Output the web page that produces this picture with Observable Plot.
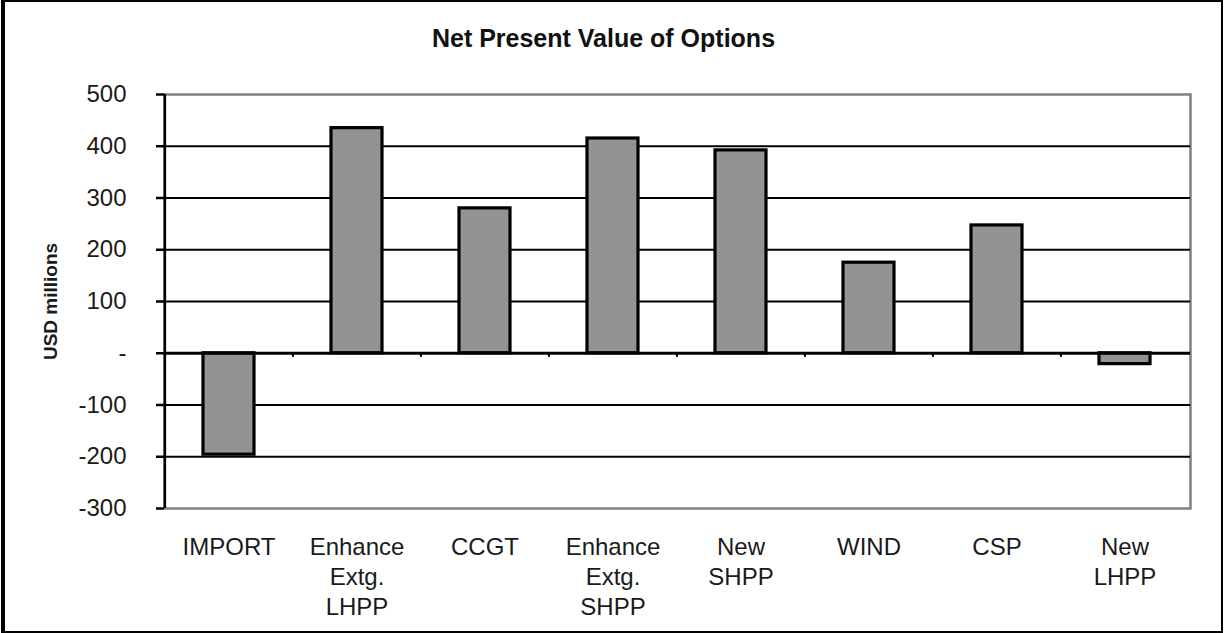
<!DOCTYPE html>
<html>
<head>
<meta charset="utf-8">
<script src="https://cdn.jsdelivr.net/npm/d3@7"></script>
<script src="https://cdn.jsdelivr.net/npm/@observablehq/plot@0.6"></script>
<style>
  html, body { margin: 0; padding: 0; background: #fff; }
  #wrap { position: absolute; left: 0; top: 0; width: 1224px; height: 633px; }
  #title { box-sizing: border-box; width: 1224px; height: 60px; padding-top: 24px; padding-right: 17px;
           line-height: 24px; text-align: center; font: bold 25px "Liberation Sans", Arial, sans-serif; color: #111; }
  #border { position: absolute; left: 1px; top: 0; width: 1222px; height: 633px; box-sizing: border-box;
            border: 2px solid #000; border-left-width: 4px; pointer-events: none; }
</style>
</head>
<body>
<div id="wrap">
  <div id="title">Net Present Value of Options</div>
  <div id="chart"></div>
</div>
<div id="border"></div>
<script>
const categories = ["IMPORT", "Enhance Extg. LHPP", "CCGT", "Enhance Extg. SHPP", "New SHPP", "WIND", "CSP", "New LHPP"];
const tickLabels = ["IMPORT", "Enhance\nExtg.\nLHPP", "CCGT", "Enhance\nExtg.\nSHPP", "New\nSHPP", "WIND", "CSP", "New\nLHPP"];
const values = [-196, 435, 280, 415, 392, 175, 247, -21];
const yTicks = [-300, -200, -100, 0, 100, 200, 300, 400, 500];
const yTickLabels = ["-300", "-200", "-100", "-", "100", "200", "300", "400", "500"];
const gridValues = [-200, -100, 100, 200, 300, 400];
const yLabel = "USD millions";

const data = categories.map((c, i) => ({category: c, value: values[i]}));

const W = 1224, H = 573, mL = 164, mR = 34, mT = 34, mB = 125;
const halfStep = (W - mL - mR) / categories.length / 2;
const font = "'Liberation Sans', Arial, sans-serif";

const chart = Plot.plot({
  width: W, height: H,
  marginTop: mT, marginBottom: mB, marginLeft: mL, marginRight: mR,
  style: {fontFamily: font, fontSize: "24px", color: "#1a1a1a", background: "transparent", overflow: "visible"},
  x: {domain: categories, paddingInner: 0.6, paddingOuter: 0.3},
  y: {domain: [-300, 500]},
  marks: [
    Plot.frame({stroke: "#808080", strokeWidth: 2.5}),
    Plot.ruleY(gridValues, {stroke: "#000", strokeWidth: 2.2}),
    Plot.ruleX(categories.slice(1), {x: d => d, dx: -halfStep, y1: 0, y2: -8, stroke: "#000", strokeWidth: 2}),
    Plot.barY(data, {x: "category", y: "value", fill: "#939393", stroke: "#000", strokeWidth: 3.2}),
    Plot.ruleY([0], {stroke: "#000", strokeWidth: 3}),
    Plot.ruleX([categories[0]], {x: d => d, dx: -halfStep, stroke: "#000", strokeWidth: 2.5}),
    Plot.axisY({ticks: yTicks, tickFormat: d => yTickLabels[yTicks.indexOf(d)], tickSize: 8, tickPadding: 30,
                strokeWidth: 2.5, stroke: "#000", fontSize: 24, label: null}),
    Plot.axisX({tickSize: 0, tickPadding: 25, tickFormat: d => tickLabels[categories.indexOf(d)],
                lineHeight: 1.25, fontSize: 24, label: null}),
    Plot.text([yLabel], {frameAnchor: "left", textAnchor: "middle", rotate: -90, dx: -114,
                         fontWeight: "bold", fontSize: 19, fill: "#1a1a1a"})
  ]
});
document.getElementById("chart").appendChild(chart);
</script>
</body>
</html>
